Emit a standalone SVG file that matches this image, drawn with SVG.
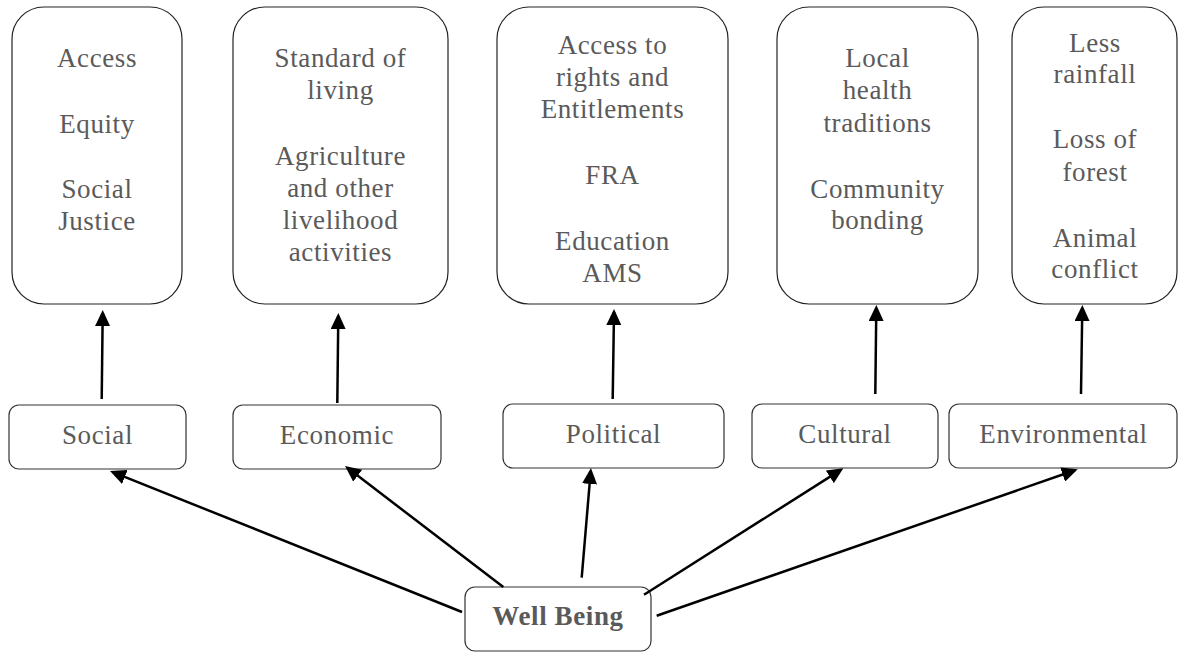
<svg xmlns="http://www.w3.org/2000/svg" width="1180" height="652" viewBox="0 0 1180 652">
<style>
.big{fill:#fff;stroke:#222;stroke-width:1.2}
.lbl{fill:#fff;stroke:#333;stroke-width:1.2}
text{font-family:"Liberation Serif","Times New Roman",serif;font-size:27px;fill:#5a5a5a;text-anchor:middle;letter-spacing:0.6px}
.b{font-weight:bold}
.c{stroke:#000;stroke-width:2.5;fill:none;marker-end:url(#ah)}
</style>
<defs>
<marker id="ah" markerUnits="userSpaceOnUse" markerWidth="16" markerHeight="15" refX="13" refY="7.5" orient="auto">
<path d="M0,0 L16,7.5 L0,15 z" fill="#000"/>
</marker>
</defs>
<rect width="1180" height="652" fill="#fff"/>
<g id="box-social-items">
<rect class="big" x="12" y="7" width="170" height="297" rx="32"/>
<text x="97" y="67">Access</text>
<text x="97" y="133">Equity</text>
<text x="97" y="198">Social</text>
<text x="97" y="230">Justice</text>
</g>
<g id="box-economic-items">
<rect class="big" x="233" y="7" width="215" height="297" rx="32"/>
<text x="340.5" y="67">Standard of</text>
<text x="340.5" y="99">living</text>
<text x="340.5" y="165">Agriculture</text>
<text x="340.5" y="197">and other</text>
<text x="340.5" y="229">livelihood</text>
<text x="340.5" y="261">activities</text>
</g>
<g id="box-political-items">
<rect class="big" x="497" y="7" width="231" height="297" rx="32"/>
<text x="612.5" y="54">Access to</text>
<text x="612.5" y="86">rights and</text>
<text x="612.5" y="118">Entitlements</text>
<text x="612.5" y="184">FRA</text>
<text x="612.5" y="250">Education</text>
<text x="612.5" y="282">AMS</text>
</g>
<g id="box-cultural-items">
<rect class="big" x="777" y="7" width="201" height="297" rx="32"/>
<text x="877.5" y="67">Local</text>
<text x="877.5" y="99">health</text>
<text x="877.5" y="132">traditions</text>
<text x="877.5" y="198">Community</text>
<text x="877.5" y="229">bonding</text>
</g>
<g id="box-environmental-items">
<rect class="big" x="1012" y="7" width="165" height="297" rx="32"/>
<text x="1095" y="52">Less</text>
<text x="1095" y="83">rainfall</text>
<text x="1095" y="148">Loss of</text>
<text x="1095" y="181">forest</text>
<text x="1095" y="247">Animal</text>
<text x="1095" y="278">conflict</text>
</g>
<g id="node-social">
<rect class="lbl" x="9" y="405" width="177" height="64" rx="10"/>
<text x="97.5" y="444">Social</text>
</g>
<g id="node-economic">
<rect class="lbl" x="233" y="405" width="208" height="64" rx="10"/>
<text x="337" y="444">Economic</text>
</g>
<g id="node-political">
<rect class="lbl" x="503" y="404" width="221" height="64" rx="10"/>
<text x="613.5" y="443">Political</text>
</g>
<g id="node-cultural">
<rect class="lbl" x="752" y="404" width="186" height="64" rx="10"/>
<text x="845" y="443">Cultural</text>
</g>
<g id="node-environmental">
<rect class="lbl" x="949" y="404" width="228" height="64" rx="10"/>
<text x="1063.5" y="443">Environmental</text>
</g>
<g id="node-wellbeing">
<rect class="lbl" x="465" y="587" width="186" height="64" rx="10"/>
<text class="b" x="558" y="625">Well Being</text>
</g>
<g id="connectors">
<line class="c" x1="101.7" y1="399" x2="102.7" y2="313"/>
<line class="c" x1="337.3" y1="403" x2="338.3" y2="316"/>
<line class="c" x1="612.7" y1="399" x2="614" y2="312"/>
<line class="c" x1="875.3" y1="394" x2="876.3" y2="308"/>
<line class="c" x1="1081" y1="394" x2="1082.3" y2="308"/>
<line class="c" x1="462" y1="612" x2="112.8" y2="472.1"/>
<line class="c" x1="503.3" y1="587" x2="347.4" y2="467.8"/>
<line class="c" x1="581.7" y1="577.7" x2="590.7" y2="471"/>
<line class="c" x1="644" y1="594.7" x2="840.8" y2="469.9"/>
<line class="c" x1="656.7" y1="615.7" x2="1074.9" y2="470.3"/>
</g>
</svg>
